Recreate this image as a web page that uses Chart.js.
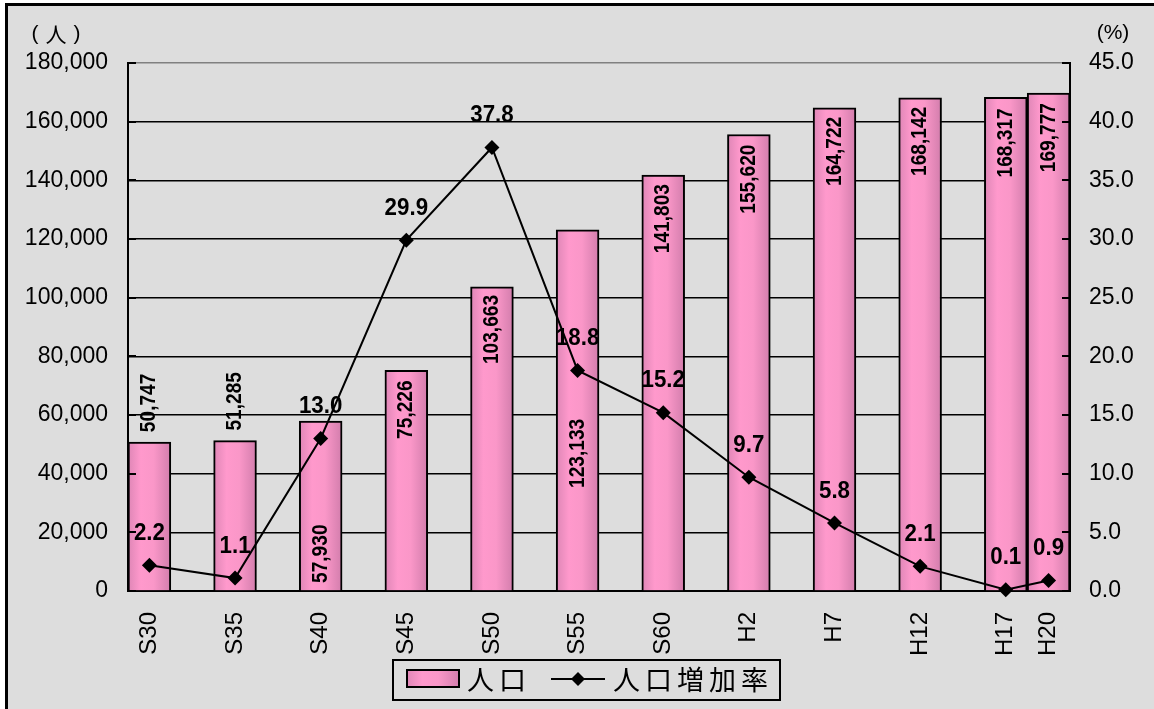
<!DOCTYPE html>
<html>
<head>
<meta charset="utf-8">
<script src="https://cdn.jsdelivr.net/npm/chart.js@4.4.1/dist/chart.umd.min.js"></script>
<style>
  html, body { margin: 0; padding: 0; background: #ffffff; }
  canvas { display: block; }
</style>
</head>
<body>
<canvas id="chart" width="1154" height="709"></canvas>
<script>
// Census years (Showa / Heisei) and the figures for each
const categories = ['S30', 'S35', 'S40', 'S45', 'S50', 'S55', 'S60', 'H2', 'H7', 'H12', 'H17', 'H20'];
const population = [50747, 51285, 57930, 75226, 103663, 123133, 141803, 155620, 164722, 168142, 168317, 169777];
const growthRate = [2.2, 1.1, 13.0, 29.9, 37.8, 18.8, 15.2, 9.7, 5.8, 2.1, 0.1, 0.9];

// Axis ranges
const popAxis = { min: 0, max: 180000, step: 20000 };
const rateAxis = { min: 0, max: 45, step: 5 };

// Slot of each year along the x axis (H20 comes only three years after H17)
const slots = [0, 1, 2, 3, 4, 5, 6, 7, 8, 9, 10, 10.5];

// Where each population label goes: outside above the bar, inside the top, or up from the base
const popLabelPlace = [
  ['out', 10], ['out', 10], ['base', 8], ['end', 10], ['end', 8], ['base', 103],
  ['end', 9], ['end', 10], ['end', 9], ['end', 9], ['end', 11], ['end', 10]
];

const LATIN = '"Liberation Sans", Arial, sans-serif';
const CJK = '"Noto Sans CJK JP", "Noto Sans CJK SC", sans-serif';
const BG = '#dddddd';

function pinkGradient(c, x0, x1) {
  const g = c.createLinearGradient(x0, 0, x1, 0);
  g.addColorStop(0, '#de86b6');
  g.addColorStop(0.3, '#ff99cc');
  g.addColorStop(0.6, '#fa97c8');
  g.addColorStop(1, '#d27dac');
  return g;
}

function barFill(ctx) {
  const chart = ctx.chart;
  const sx = chart.scales && chart.scales.x;
  if (!sx || ctx.type !== 'data') return '#ff99cc';
  const cx = sx.getPixelForValue(slots[ctx.dataIndex]);
  const half = sx.getPixelForValue(0.25) - sx.getPixelForValue(0);
  if (!isFinite(cx) || !isFinite(half) || half <= 0) return '#ff99cc';
  return pinkGradient(chart.ctx, cx - half, cx + half);
}

// Draws text, optionally rotated to read upwards and squeezed along its length
function drawText(c, text, x, y, font, squeeze, upright) {
  c.save();
  c.translate(x, y);
  if (upright) c.rotate(-Math.PI / 2);
  c.scale(squeeze, 1);
  c.font = font;
  c.fillStyle = '#000';
  c.textAlign = 'center';
  c.textBaseline = 'middle';
  c.fillText(text, 0, 0);
  c.restore();
}

function diamond(c, x, y, r) {
  c.beginPath();
  c.moveTo(x, y - r);
  c.lineTo(x + r, y);
  c.lineTo(x, y + r);
  c.lineTo(x - r, y);
  c.closePath();
  c.fill();
}

function spacedText(c, text, x, y, pitch) {
  c.font = '27px ' + CJK;
  c.fillStyle = '#000';
  c.textAlign = 'left';
  c.textBaseline = 'middle';
  [...text].forEach((ch, i) => c.fillText(ch, x + i * pitch, y));
}

const decorations = {
  id: 'decorations',
  beforeDraw(chart) {
    const c = chart.ctx;
    c.save();
    c.fillStyle = '#ffffff';
    c.fillRect(0, 0, chart.width, chart.height);
    c.fillStyle = BG;
    c.fillRect(6, 4, chart.width, chart.height);
    c.strokeStyle = '#000';
    c.lineWidth = 3;
    c.strokeRect(6.5, 4.5, chart.width + 10, chart.height + 10);
    c.restore();
  },
  afterDatasetsDraw(chart) {
    const c = chart.ctx;
    const area = chart.chartArea;
    const y = chart.scales.y, y1 = chart.scales.y1;
    c.save();
    c.strokeStyle = '#000';
    c.lineWidth = 2;
    // inward tick marks on both value axes
    y.ticks.forEach(t => {
      const p = Math.round(y.getPixelForValue(t.value));
      c.beginPath(); c.moveTo(area.left, p); c.lineTo(area.left + 8, p); c.stroke();
    });
    y1.ticks.forEach(t => {
      const p = Math.round(y1.getPixelForValue(t.value));
      c.beginPath(); c.moveTo(area.right - 8, p); c.lineTo(area.right, p); c.stroke();
    });
    c.restore();
  },
  afterDraw(chart) {
    const c = chart.ctx;
    const barMeta = chart.getDatasetMeta(1);
    const lineMeta = chart.getDatasetMeta(0);
    const base = chart.scales.y.getPixelForValue(0);
    const barFont = 'bold 22px ' + LATIN;
    const squeeze = 0.87;

    // population values, written upwards on the bars
    barMeta.data.forEach((bar, i) => {
      const text = population[i].toLocaleString('en-US');
      c.font = barFont;
      const len = c.measureText(text).width * squeeze;
      const [where, gap] = popLabelPlace[i];
      let cy;
      if (where === 'out') cy = bar.y - gap - len / 2;
      else if (where === 'end') cy = bar.y + gap + len / 2;
      else cy = base - gap - len / 2;
      drawText(c, text, bar.x, cy, barFont, squeeze, true);
    });

    // growth-rate values above each marker
    lineMeta.data.forEach((pt, i) => {
      drawText(c, growthRate[i].toFixed(1), pt.x, pt.y - 32, 'bold 24px ' + LATIN, 0.93, false);
    });

    // unit captions
    c.save();
    c.fillStyle = '#000';
    c.textBaseline = 'middle';
    c.textAlign = 'center';
    c.font = '21px ' + LATIN;
    c.fillText('(', 35, 34);
    c.fillText(')', 77, 34);
    c.font = '21px ' + CJK;
    c.fillText('人', 56, 34);
    c.font = '21px ' + LATIN;
    c.fillText('(%)', 1113, 33);

    // legend
    c.lineWidth = 2;
    c.strokeStyle = '#000';
    c.strokeRect(393, 660, 387, 40);
    c.fillStyle = pinkGradient(c, 406, 460);
    c.fillRect(406, 669, 54, 19);
    c.strokeRect(407, 670, 52, 17);
    spacedText(c, '人口', 467, 680, 32);
    c.beginPath(); c.moveTo(551, 679); c.lineTo(605, 679); c.stroke();
    c.fillStyle = '#000';
    diamond(c, 578, 679, 7);
    spacedText(c, '人口増加率', 613, 680, 32);
    c.restore();
  }
};

new Chart(document.getElementById('chart'), {
  data: {
    datasets: [
      {
        type: 'line',
        label: '人口増加率',
        data: growthRate.map((v, i) => ({ x: slots[i], y: v })),
        yAxisID: 'y1',
        borderColor: '#000',
        borderWidth: 2,
        pointStyle: 'rectRot',
        pointRadius: 7.5,
        pointBackgroundColor: '#000',
        pointBorderColor: '#000',
        pointBorderWidth: 0,
        tension: 0,
        clip: false,
        order: 0
      },
      {
        type: 'bar',
        label: '人口',
        data: population.map((v, i) => ({ x: slots[i], y: v })),
        yAxisID: 'y',
        backgroundColor: barFill,
        borderColor: '#000',
        borderWidth: 2,
        barPercentage: 1,
        categoryPercentage: 1,
        order: 1
      }
    ]
  },
  options: {
    responsive: false,
    animation: false,
    events: [],
    layout: { padding: { top: 63, left: 0, right: 0, bottom: 0 } },
    plugins: { legend: { display: false }, tooltip: { enabled: false } },
    scales: {
      x: {
        type: 'linear',
        offset: false,
        min: -0.25,
        max: 10.75,
        afterBuildTicks: axis => { axis.ticks = slots.map(v => ({ value: v })); },
        afterFit: axis => { axis.height = 118; },
        grid: { display: false, drawTicks: false, offset: false },
        border: { display: true, color: '#000', width: 2 },
        ticks: {
          autoSkip: false,
          minRotation: 90,
          maxRotation: 90,
          padding: 21,
          color: '#000',
          font: { family: LATIN, size: 24 },
          callback: (v, i) => categories[i]
        }
      },
      y: {
        position: 'left',
        min: popAxis.min,
        max: popAxis.max,
        afterFit: axis => { axis.width = 128; },
        grid: {
          color: ctx => (ctx.tick && ctx.tick.value === popAxis.max ? '#808080' : '#000'),
          lineWidth: 1.5,
          drawTicks: false
        },
        border: { display: true, color: '#000', width: 2 },
        ticks: {
          stepSize: popAxis.step,
          padding: 20,
          color: '#000',
          font: { family: LATIN, size: 23 },
          callback: v => v.toLocaleString('en-US')
        }
      },
      y1: {
        position: 'right',
        min: rateAxis.min,
        max: rateAxis.max,
        afterFit: axis => { axis.width = 84; },
        grid: { drawOnChartArea: false, drawTicks: false },
        border: { display: true, color: '#000', width: 2 },
        ticks: {
          stepSize: rateAxis.step,
          padding: 19,
          color: '#000',
          font: { family: LATIN, size: 23 },
          callback: v => v.toFixed(1)
        }
      }
    }
  },
  plugins: [decorations]
});
</script>
</body>
</html>
